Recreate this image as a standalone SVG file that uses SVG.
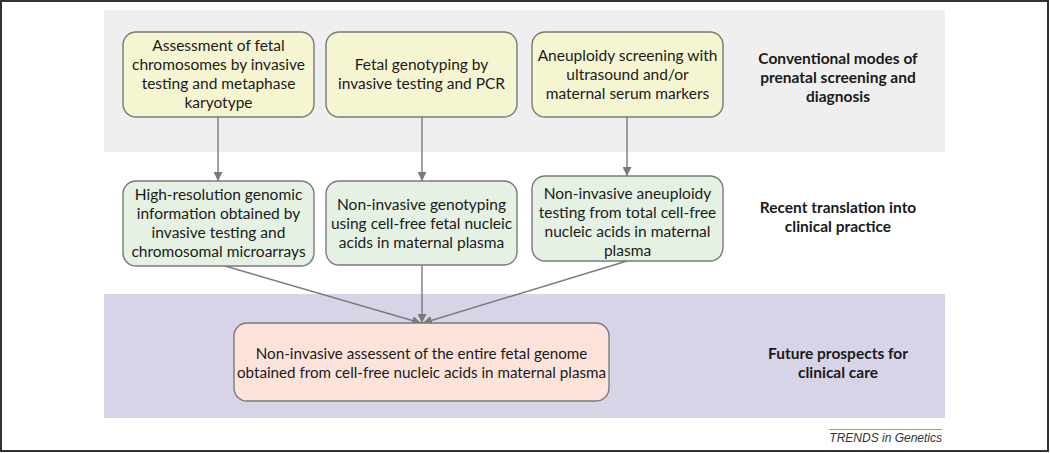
<svg xmlns="http://www.w3.org/2000/svg" width="1050" height="453" viewBox="0 0 1050 453">
<defs>
<style>
.t{font-family:Lato,"Open Sans","Liberation Sans",sans-serif;font-size:15.5px;fill:#1a1a1a;text-anchor:middle}
.b{font-family:Lato,"Open Sans","Liberation Sans",sans-serif;font-size:15.5px;font-weight:bold;fill:#1a1a1a;text-anchor:middle}
.box{stroke:#7a7a7a;stroke-width:1.4}
.y{fill:#f6f5d2}
.g{fill:#e5f1e3}
.p{fill:#fde3da}
.c{stroke:#7a7a7a;stroke-width:1.4;fill:none}
</style>
<marker id="ah" viewBox="0 0 10 10" refX="10" refY="5" markerWidth="9" markerHeight="9" markerUnits="userSpaceOnUse" orient="auto">
<path d="M0,0 L10,5 L0,10 Z" fill="#7a7a7a"/>
</marker>
</defs>
<rect x="0" y="0" width="1050" height="453" fill="#ffffff"/>
<rect x="1" y="1" width="1047" height="450" fill="none" stroke="#333333" stroke-width="2"/>
<rect id="band-conventional" x="104" y="10" width="841" height="142" fill="#eeefee"/>
<rect id="band-future" x="104" y="294" width="841" height="124" fill="#d8d4e8"/>

<g id="connectors">
<line class="c" x1="218" y1="117" x2="218" y2="181" marker-end="url(#ah)"/>
<line class="c" x1="422" y1="117" x2="422" y2="181" marker-end="url(#ah)"/>
<line class="c" x1="627" y1="117" x2="627" y2="176" marker-end="url(#ah)"/>
<line class="c" x1="225" y1="266" x2="421" y2="323" marker-end="url(#ah)"/>
<line class="c" x1="422" y1="265" x2="422" y2="323" marker-end="url(#ah)"/>
<line class="c" x1="627" y1="261" x2="423" y2="323" marker-end="url(#ah)"/>
</g>

<g id="node-karyotype">
<rect class="box y" x="123" y="32" width="191" height="85" rx="13"/>
<text class="t" x="218.5" y="50.5">Assessment of fetal</text>
<text class="t" x="218.5" y="69.5">chromosomes by invasive</text>
<text class="t" x="218.5" y="88.5">testing and metaphase</text>
<text class="t" x="218.5" y="108">karyotype</text>
</g>
<g id="node-genotyping">
<rect class="box y" x="326" y="32" width="191" height="85" rx="13"/>
<text class="t" x="421.5" y="69.5">Fetal genotyping by</text>
<text class="t" x="421.5" y="88.5">invasive testing and PCR</text>
</g>
<g id="node-aneuploidy">
<rect class="box y" x="532" y="32" width="191" height="85" rx="13"/>
<text class="t" x="627.5" y="61">Aneuploidy screening with</text>
<text class="t" x="627.5" y="80">ultrasound and/or</text>
<text class="t" x="627.5" y="99">maternal serum markers</text>
</g>

<g id="node-microarrays">
<rect class="box g" x="123" y="181" width="191" height="85" rx="13"/>
<text class="t" x="218.5" y="200">High-resolution genomic</text>
<text class="t" x="218.5" y="219">information obtained by</text>
<text class="t" x="218.5" y="238">invasive testing and</text>
<text class="t" x="218.5" y="257">chromosomal microarrays</text>
</g>
<g id="node-ni-genotyping">
<rect class="box g" x="326" y="181" width="191" height="84" rx="13"/>
<text class="t" x="421.5" y="209.5">Non-invasive genotyping</text>
<text class="t" x="421.5" y="228.5">using cell-free fetal nucleic</text>
<text class="t" x="421.5" y="247.5">acids in maternal plasma</text>
</g>
<g id="node-ni-aneuploidy">
<rect class="box g" x="532" y="176" width="191" height="85" rx="13"/>
<text class="t" x="627.5" y="198.5">Non-invasive aneuploidy</text>
<text class="t" x="627.5" y="217.5">testing from total cell-free</text>
<text class="t" x="627.5" y="236.5">nucleic acids in maternal</text>
<text class="t" x="627.5" y="255.5">plasma</text>
</g>

<g id="node-genome">
<rect class="box p" x="234" y="323" width="375" height="78" rx="13"/>
<text class="t" x="421.5" y="358.5" style="font-size:15.2px">Non-invasive assessent of the entire fetal genome</text>
<text class="t" x="421.5" y="377.5" style="font-size:15.2px">obtained from cell-free nucleic acids in maternal plasma</text>
</g>

<g id="labels">
<text class="b" x="838" y="63.5">Conventional modes of</text>
<text class="b" x="838" y="82.5">prenatal screening and</text>
<text class="b" x="838" y="102">diagnosis</text>
<text class="b" x="838" y="213">Recent translation into</text>
<text class="b" x="838" y="232">clinical practice</text>
<text class="b" x="838" y="358.5">Future prospects for</text>
<text class="b" x="838" y="378">clinical care</text>
</g>

<line x1="829" y1="429.5" x2="942" y2="429.5" stroke="#999999" stroke-width="1"/>
<text x="942" y="442" font-family="'Liberation Sans',Arial,sans-serif" font-size="12" font-style="italic" fill="#333333" text-anchor="end">TRENDS in Genetics</text>
</svg>
